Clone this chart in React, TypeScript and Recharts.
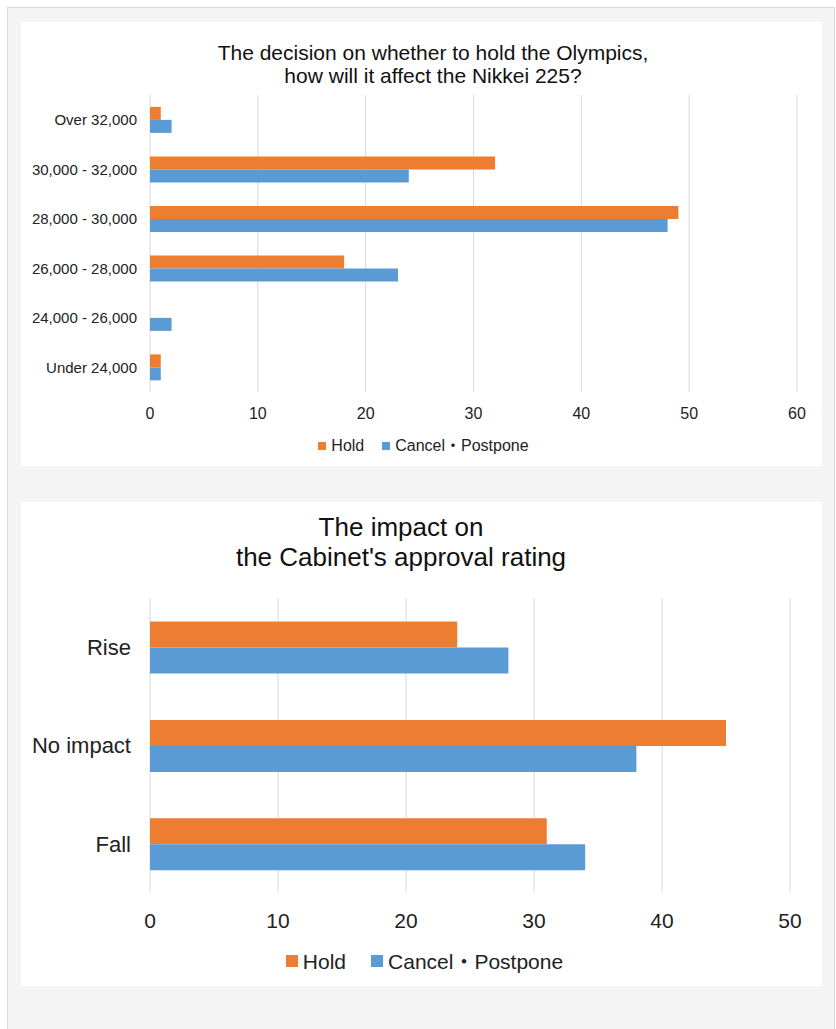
import { BarChart, Bar, XAxis, YAxis, CartesianGrid, Legend } from "recharts";

// Nikkei 225 outlook, by Olympic decision
const nikkeiRanges = [
  "Over 32,000",
  "30,000 - 32,000",
  "28,000 - 30,000",
  "26,000 - 28,000",
  "24,000 - 26,000",
  "Under 24,000",
];
const nikkeiHold = [1, 32, 49, 18, 0, 1];
const nikkeiCancel = [2, 24, 48, 23, 2, 1];
const nikkeiTicks = [0, 10, 20, 30, 40, 50, 60];

// Cabinet approval rating impact
const approvalOutcomes = ["Rise", "No impact", "Fall"];
const approvalHold = [24, 45, 31];
const approvalCancel = [28, 38, 34];
const approvalTicks = [0, 10, 20, 30, 40, 50];

const seriesOrder = ["hold", "cancel"];

const HOLD = "#ED7D31";
const CANCEL = "#5B9BD5";
const GRID = "#d9d9d9";
const TEXT = "#222";
const FONT = '"Liberation Sans", Arial, "Noto Sans CJK JP", sans-serif';

const nikkeiData = nikkeiRanges.map((name, i) => ({
  name,
  hold: nikkeiHold[i],
  cancel: nikkeiCancel[i],
}));
const approvalData = approvalOutcomes.map((name, i) => ({
  name,
  hold: approvalHold[i],
  cancel: approvalCancel[i],
}));

function makeLegend(box: number, fontSize: number, spacing: number, height: number) {
  return (props: any) => {
    const items = (props.payload || [])
      .slice()
      .sort(
        (a: any, b: any) =>
          seriesOrder.indexOf(a.dataKey) - seriesOrder.indexOf(b.dataKey)
      );
    return (
      <div
        style={{
          display: "flex",
          justifyContent: "center",
          alignItems: "center",
          height,
          fontSize,
          color: TEXT,
          fontFamily: FONT,
        }}
      >
        {items.map((p: any, i: number) => (
          <span
            key={i}
            style={{
              display: "flex",
              alignItems: "center",
              height,
              marginRight: i < items.length - 1 ? spacing : 0,
            }}
          >
            <span
              style={{
                display: "inline-block",
                width: box,
                height: box,
                background: p.color,
                marginRight: 5,
              }}
            />
            <span style={{ display: "block", height: fontSize, lineHeight: `${fontSize}px`, overflow: "visible" }}>
              {p.value}
            </span>
          </span>
        ))}
      </div>
    );
  };
}

export default function App() {
  return (
    <div
      style={{
        position: "absolute",
        left: 7,
        top: 7,
        width: 828,
        height: 1022,
        boxSizing: "border-box",
        background: "#f4f4f4",
        border: "1px solid #dcdcdc",
        borderBottom: "none",
        fontFamily: FONT,
      }}
    >
      {/* panel 1 */}
      <div
        style={{
          position: "absolute",
          left: 13,
          top: 14,
          width: 801,
          height: 444,
          background: "#fff",
        }}
      >
        <BarChart
          width={801}
          height={444}
          data={nikkeiData}
          layout="vertical"
          margin={{ top: 73, right: 25, left: 0, bottom: 10 }}
          barCategoryGap="24%"
          barGap={0}
        >
          <CartesianGrid horizontal={false} stroke={GRID} />
          <XAxis
            type="number"
            domain={[0, 60]}
            ticks={nikkeiTicks}
            axisLine={false}
            tickLine={false}
            tickSize={0}
            tickMargin={16}
            height={44}
            tick={{ fill: TEXT, fontSize: 16 }}
          />
          <YAxis
            type="category"
            dataKey="name"
            width={129}
            axisLine={false}
            tickLine={false}
            tickSize={0}
            tickMargin={13}
            interval={0}
            tick={{ fill: TEXT, fontSize: 15 }}
          />
          <Legend
            verticalAlign="bottom"
            wrapperStyle={{ left: 0, width: 805 }}
            content={makeLegend(8, 16, 18, 20)}
          />
          <Bar dataKey="hold" name="Hold" fill={HOLD} isAnimationActive={false} />
          <Bar dataKey="cancel" name="Cancel・Postpone" fill={CANCEL} isAnimationActive={false} />
        </BarChart>
        <div
          style={{
            position: "absolute",
            left: 412,
            top: 19,
            transform: "translateX(-50%)",
            whiteSpace: "nowrap",
            textAlign: "center",
            fontSize: 21,
            lineHeight: "23px",
            color: "#111",
          }}
        >
          The decision on whether to hold the Olympics,
          <br />
          how will it affect the Nikkei 225?
        </div>
      </div>

      {/* panel 2 */}
      <div
        style={{
          position: "absolute",
          left: 13,
          top: 494,
          width: 801,
          height: 484,
          background: "#fff",
        }}
      >
        <BarChart
          width={801}
          height={484}
          data={approvalData}
          layout="vertical"
          margin={{ top: 96, right: 32, left: 0, bottom: 12 }}
          barCategoryGap="24%"
          barGap={0}
        >
          <CartesianGrid horizontal={false} stroke={GRID} />
          <XAxis
            type="number"
            domain={[0, 50]}
            ticks={approvalTicks}
            axisLine={false}
            tickLine={false}
            tickSize={0}
            tickMargin={20}
            height={55}
            tick={{ fill: TEXT, fontSize: 21 }}
          />
          <YAxis
            type="category"
            dataKey="name"
            width={129}
            axisLine={false}
            tickLine={false}
            tickSize={0}
            tickMargin={19}
            interval={0}
            tick={{ fill: TEXT, fontSize: 22 }}
          />
          <Legend
            verticalAlign="bottom"
            wrapperStyle={{ left: 0, width: 807 }}
            content={makeLegend(12, 21, 25, 26)}
          />
          <Bar dataKey="hold" name="Hold" fill={HOLD} isAnimationActive={false} />
          <Bar dataKey="cancel" name="Cancel・Postpone" fill={CANCEL} isAnimationActive={false} />
        </BarChart>
        <div
          style={{
            position: "absolute",
            left: 380,
            top: 10,
            transform: "translateX(-50%)",
            whiteSpace: "nowrap",
            textAlign: "center",
            fontSize: 26,
            lineHeight: "30px",
            color: "#111",
          }}
        >
          The impact on
          <br />
          the Cabinet's approval rating
        </div>
      </div>
    </div>
  );
}
